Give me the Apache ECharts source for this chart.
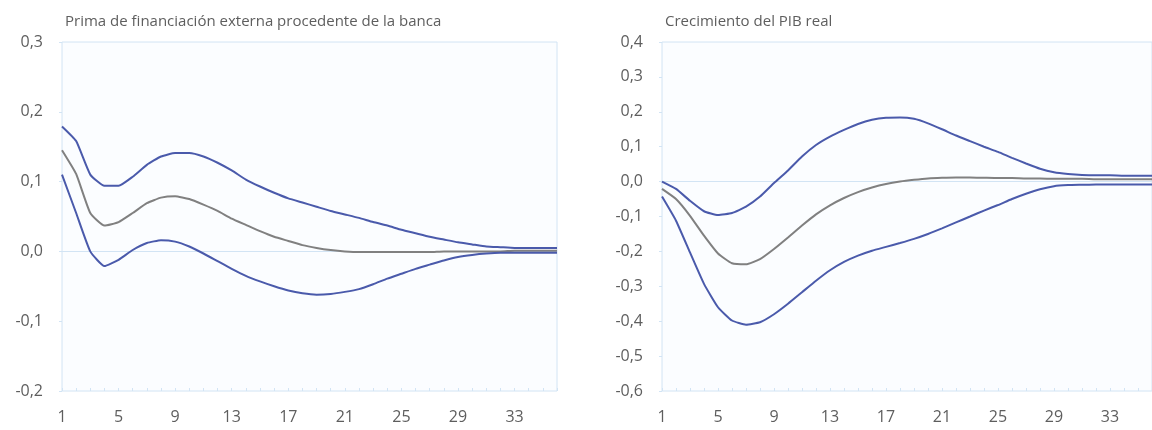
<!DOCTYPE html>
<html>
<head>
<meta charset="utf-8">
<script src="https://cdn.jsdelivr.net/npm/echarts@6/dist/echarts.min.js"></script>
<style>
  html, body { margin: 0; padding: 0; background: #ffffff; }
  #chart { width: 1152px; height: 430px; }
</style>
</head>
<body>
<div id="chart"></div>
<script>
// Horizon (periods after the shock)
const periods = ['1','2','3','4','5','6','7','8','9','10','11','12','13','14','15','16','17','18',
                 '19','20','21','22','23','24','25','26','27','28','29','30','31','32','33','34','35','36'];

// Panel titles
const titleLeft = 'Prima de financiación externa procedente de la banca';
const titleRight = 'Crecimiento del PIB real';

// Bank external finance premium: upper band, median, lower band
const primaUpper = [0.179, 0.158, 0.110, 0.094, 0.094, 0.107, 0.124, 0.136, 0.141, 0.141, 0.136, 0.127,
                    0.116, 0.103, 0.093, 0.084, 0.076, 0.070, 0.064, 0.058, 0.053, 0.048, 0.042, 0.037,
                    0.031, 0.026, 0.021, 0.017, 0.013, 0.010, 0.007, 0.006, 0.005, 0.005, 0.005, 0.005];
const primaMedian = [0.145, 0.111, 0.055, 0.037, 0.042, 0.055, 0.069, 0.077, 0.079, 0.075, 0.067, 0.058,
                     0.047, 0.038, 0.029, 0.021, 0.015, 0.009, 0.005, 0.002, 0.000, -0.001, -0.001, -0.001,
                     -0.001, -0.001, -0.001, 0.000, 0.000, 0.000, 0.000, 0.000, 0.001, 0.001, 0.001, 0.001];
const primaLower = [0.110, 0.055, 0.000, -0.021, -0.012, 0.002, 0.012, 0.016, 0.014, 0.007, -0.003, -0.014,
                    -0.025, -0.035, -0.043, -0.050, -0.056, -0.060, -0.062, -0.061, -0.058, -0.054, -0.047, -0.039,
                    -0.032, -0.025, -0.019, -0.013, -0.008, -0.005, -0.003, -0.002, -0.002, -0.002, -0.002, -0.002];

// Real GDP growth: upper band, median, lower band
const pibUpper = [0.000, -0.021, -0.055, -0.085, -0.096, -0.090, -0.072, -0.043, -0.004, 0.032, 0.072, 0.105,
                  0.129, 0.148, 0.165, 0.177, 0.183, 0.184, 0.180, 0.167, 0.150, 0.132, 0.116, 0.100,
                  0.085, 0.068, 0.052, 0.037, 0.027, 0.022, 0.019, 0.018, 0.018, 0.017, 0.017, 0.017];
const pibMedian = [-0.021, -0.050, -0.098, -0.155, -0.206, -0.234, -0.237, -0.222, -0.193, -0.160, -0.126, -0.094,
                   -0.068, -0.047, -0.030, -0.017, -0.007, 0.000, 0.005, 0.009, 0.011, 0.012, 0.012, 0.011,
                   0.010, 0.010, 0.009, 0.009, 0.008, 0.008, 0.008, 0.007, 0.007, 0.007, 0.007, 0.007];
const pibLower = [-0.043, -0.112, -0.203, -0.293, -0.360, -0.398, -0.410, -0.403, -0.380, -0.350, -0.317, -0.284,
                  -0.254, -0.230, -0.212, -0.198, -0.187, -0.176, -0.164, -0.150, -0.134, -0.117, -0.100, -0.083,
                  -0.067, -0.050, -0.035, -0.022, -0.013, -0.010, -0.009, -0.008, -0.008, -0.008, -0.008, -0.008];

// Value axis ranges
const primaRange = { min: -0.2, max: 0.3, interval: 0.1 };
const pibRange = { min: -0.6, max: 0.4, interval: 0.1 };

const BLUE = '#4a5aab';
const GREY = '#808080';
const FRAME = '#d2e4f4';
const TEXT = '#5e5e5e';
const FONT = '"Open Sans", "Noto Sans", sans-serif';

function commaLabel(v) {
  return v.toFixed(1).replace('.', ',');
}

// Only the zero line is drawn among the split lines
function zeroLineColors(range) {
  const n = Math.round((range.max - range.min) / range.interval) + 1;
  const zeroIdx = Math.round(-range.min / range.interval);
  const colors = [];
  for (let i = 0; i < n; i++) colors.push(i === zeroIdx ? FRAME : 'rgba(0,0,0,0)');
  return colors;
}

function makeX(gridIndex) {
  return {
    type: 'category',
    gridIndex: gridIndex,
    data: periods,
    boundaryGap: false,
    axisLine: { show: false, onZero: false },
    axisTick: { show: true, interval: 0, inside: true, length: 3, lineStyle: { color: FRAME } },
    axisLabel: { interval: 3, color: TEXT, fontSize: 16, fontFamily: FONT, margin: 18 },
    splitLine: { show: false }
  };
}

function makeY(gridIndex, range) {
  return {
    type: 'value',
    gridIndex: gridIndex,
    min: range.min,
    max: range.max,
    interval: range.interval,
    axisLine: { show: false },
    axisTick: { show: true, length: 3, lineStyle: { color: FRAME } },
    axisLabel: { color: TEXT, fontSize: 16, fontFamily: FONT, margin: 19, formatter: commaLabel },
    splitLine: { show: true, lineStyle: { color: zeroLineColors(range), width: 1 } }
  };
}

function makeLine(idx, data, color) {
  return {
    type: 'line',
    xAxisIndex: idx,
    yAxisIndex: idx,
    data: data,
    symbol: 'none',
    smooth: 0.15,
    lineStyle: { color: color, width: 2 },
    silent: true,
    animation: false
  };
}

const chart = echarts.init(document.getElementById('chart'), null, { renderer: 'canvas' });

chart.setOption({
  backgroundColor: '#ffffff',
  animation: false,
  title: [
    { text: titleLeft, left: 60, top: 9, textStyle: { color: TEXT, fontSize: 15, fontWeight: 'normal', fontFamily: FONT } },
    { text: titleRight, left: 660, top: 9, textStyle: { color: TEXT, fontSize: 15, fontWeight: 'normal', fontFamily: FONT } }
  ],
  grid: [
    { left: 62, top: 42, width: 495, bottom: 39, show: true, backgroundColor: '#fbfdff', borderColor: FRAME, borderWidth: 1 },
    { left: 662, top: 42, width: 495, bottom: 39, show: true, backgroundColor: '#fbfdff', borderColor: FRAME, borderWidth: 1 }
  ],
  xAxis: [makeX(0), makeX(1)],
  yAxis: [makeY(0, primaRange), makeY(1, pibRange)],
  series: [
    makeLine(0, primaUpper, BLUE),
    makeLine(0, primaMedian, GREY),
    makeLine(0, primaLower, BLUE),
    makeLine(1, pibUpper, BLUE),
    makeLine(1, pibMedian, GREY),
    makeLine(1, pibLower, BLUE)
  ]
});
</script>
</body>
</html>
